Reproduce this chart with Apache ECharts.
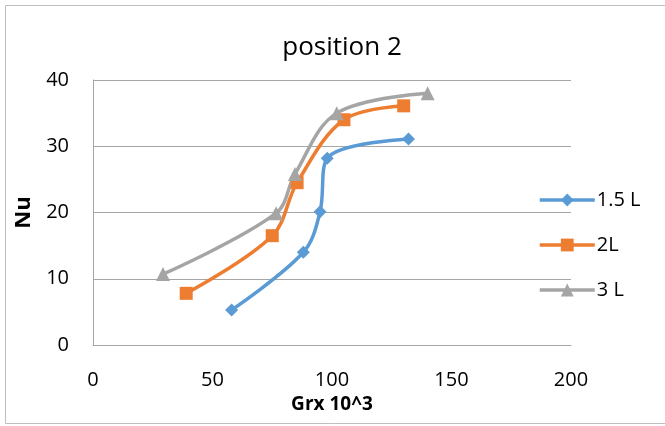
<!DOCTYPE html>
<html><head><meta charset="utf-8">
<script src="https://cdn.jsdelivr.net/npm/echarts@6/dist/echarts.min.js"></script>
<style>html,body{margin:0;padding:0;background:#fff}#c{width:665px;height:426px}</style>
</head><body><div id="c"></div>
<script>
const seriesNames = ['1.5 L', '2L', '3 L'];
const x15 = [58, 88, 95, 98, 132];
const y15 = [5.3, 14, 20.1, 28.2, 31.1];
const x2 = [39, 75, 85.4, 105, 130];
const y2 = [7.8, 16.5, 24.5, 34, 36.1];
const x3 = [29.3, 76.6, 84.5, 102, 140];
const y3 = [10.7, 19.9, 25.8, 35, 38];
const xTicks = [0, 50, 100, 150, 200];
const yTicks = [0, 10, 20, 30, 40];
const colors = ['#5B9BD5', '#ED7D31', '#A5A5A5'];
const symbols = ['diamond', 'rect', 'triangle'];
const symSizes = [13, 13, 14];

const pair = (xs, ys) => xs.map((v, i) => [v, ys[i]]);
const datas = [pair(x15, y15), pair(x2, y2), pair(x3, y3)];
const font = "'Open Sans', 'Liberation Sans', sans-serif";

const chart = echarts.init(document.getElementById('c'));
chart.setOption({
  animation: false,
  backgroundColor: '#fff',
  title: {
    text: 'position 2', left: 337, top: 30, textAlign: 'center',
    textStyle: { fontFamily: font, fontSize: 26, fontWeight: 500, color: '#000' }
  },
  graphic: [{
    type: 'rect', shape: { x: 5.5, y: 5.5, width: 670, height: 418 },
    style: { fill: null, stroke: '#BFBFBF', lineWidth: 1 }
  }],
  grid: { left: 93, top: 80, width: 478, height: 265 },
  legend: {
    orient: 'vertical', left: 533, top: 185, itemGap: 25,
    itemWidth: 55, itemHeight: 16,
    data: seriesNames.map((n, i) => ({ name: n, lineStyle: { width: 3.5, color: colors[i] } })),
    textStyle: { fontFamily: font, fontSize: 20, color: '#000', padding: [0, 0, 0, -3] }
  },
  xAxis: {
    type: 'value', min: 0, max: 200, interval: 50,
    name: 'Grx 10^3', nameLocation: 'middle', nameGap: 48,
    nameTextStyle: { fontFamily: font, fontSize: 19, fontWeight: 'bold', color: '#000' },
    axisLine: { show: true, lineStyle: { color: '#A6A6A6', width: 1 } },
    axisTick: { show: false },
    splitLine: { show: false },
    axisLabel: { fontFamily: font, fontSize: 20, color: '#000', margin: 25,
      formatter: v => xTicks.includes(v) ? String(v) : '' }
  },
  yAxis: {
    type: 'value', min: 0, max: 40, interval: 10,
    name: 'Nu', nameLocation: 'middle', nameGap: 56, nameRotate: 90,
    nameTextStyle: { fontFamily: font, fontSize: 22, fontWeight: 'bold', color: '#000' },
    axisLine: { show: true, lineStyle: { color: '#A6A6A6', width: 1 } },
    axisTick: { show: false },
    splitLine: { show: true, lineStyle: { color: '#A6A6A6', width: 1 } },
    axisLabel: { fontFamily: font, fontSize: 20, color: '#000', margin: 24,
      formatter: v => yTicks.includes(v) ? String(v) : '' }
  },
  series: seriesNames.map((n, i) => ({
    name: n, type: 'line', data: datas[i], smooth: 0.35,
    symbol: symbols[i], symbolSize: symSizes[i], showAllSymbol: true,
    lineStyle: { color: colors[i], width: 3.5 },
    itemStyle: { color: colors[i] }
  }))
});
</script></body></html>
